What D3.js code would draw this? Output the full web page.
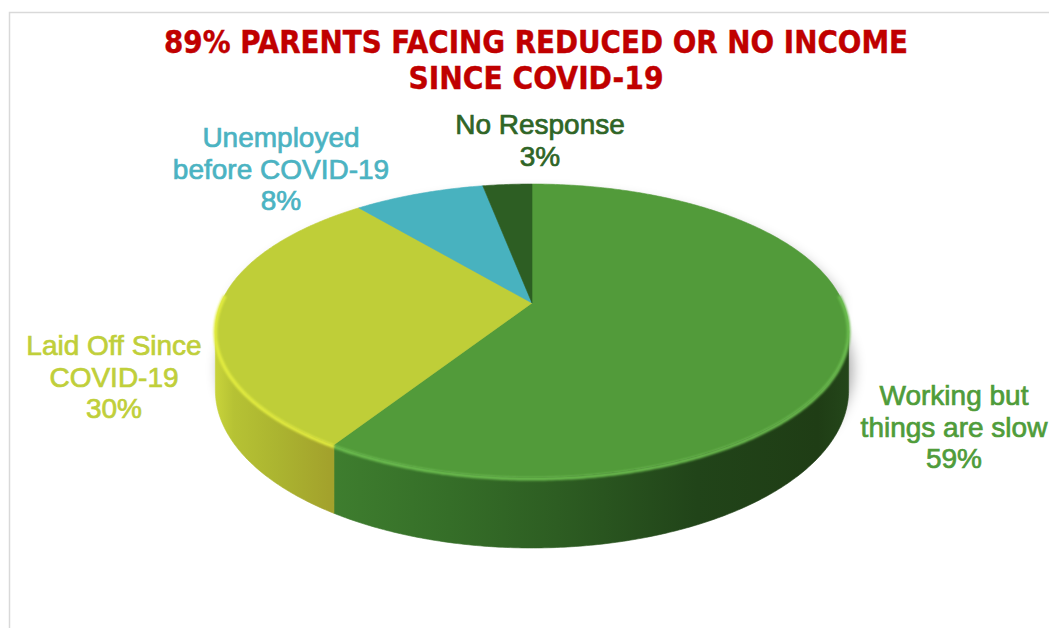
<!DOCTYPE html>
<html>
<head>
<meta charset="utf-8">
<script src="https://cdn.jsdelivr.net/npm/d3@7/dist/d3.min.js"></script>
<style>
  html, body { margin: 0; padding: 0; background: #fff; }
  svg { display: block; }
</style>
</head>
<body>
<svg id="chart" width="1049" height="628"></svg>
<script>
// Survey answers (share of parents, %)
const categories = ["Working but things are slow", "Laid Off Since COVID-19", "Unemployed before COVID-19", "No Response"];
const values = [59, 30, 8, 3];
const labelNames = [["Working but", "things are slow"], ["Laid Off Since", "COVID-19"], ["Unemployed", "before COVID-19"], ["No Response"]];
const titleLines = ["89% PARENTS FACING REDUCED OR NO INCOME", "SINCE COVID-19"];

// Styling
const topColors = ["#529b3a", "#bfce38", "#48b2bf", "#2d5e23"];
const rimColors = ["#6cbd4f", "#e2ec40", "#6cc8d3", "#3f7a31"];
const labelColors = ["#4f9c3a", "#c0cf3a", "#4bb3c2", "#2f6526"];
const labelPos = [[954, 405], [114, 355], [281, 147], [540, 134]];

const svg = d3.select("#chart");
const W = 1049, H = 628;

// Chart frame
svg.append("rect")
  .attr("x", 9.5).attr("y", 12.5)
  .attr("width", W + 20).attr("height", H + 20)
  .attr("fill", "#fff").attr("stroke", "#d9d9d9").attr("stroke-width", 1.5);

// Perspective pie geometry
const cx = 532, cy = 303, rx = 311, ry = 141.3, persp = 0.1877, depth = 57.7;
const sx = d3.scaleLinear().domain([-1, 1]).range([cx - rx, cx + rx]);
const sy = d3.scaleLinear().domain([-1, 1]).range([cy - ry, cy + ry]);

function proj(theta, dz) {
  const u = Math.sin(theta), v = -Math.cos(theta);
  const s = 1 / (1 - persp * v);
  return [sx(u * s), sy(v * s) + dz * s];
}
function arcPoints(a, b, dz) {
  const n = Math.max(2, Math.ceil((b - a) / 0.01));
  return d3.range(n + 1).map(i => proj(a + (b - a) * i / n, dz));
}

const pie = d3.pie().sort(null).value(d => d)
  .startAngle(0).endAngle(2 * Math.PI);
const arcs = pie(values);

const line = d3.line();
const visLo = Math.acos(-persp), visHi = 2 * Math.PI - Math.acos(-persp);

const defs = svg.append("defs");
defs.append("filter").attr("id", "shadowBlur")
  .attr("x", "-20%").attr("y", "-20%").attr("width", "140%").attr("height", "140%")
  .append("feGaussianBlur").attr("stdDeviation", 7);
defs.append("filter").attr("id", "rimBlur")
  .attr("x", "-10%").attr("y", "-10%").attr("width", "120%").attr("height", "120%")
  .append("feGaussianBlur").attr("stdDeviation", 1.3);

const xL = sx(-1.02), xR = sx(1.02);
const sideGrads = [
  [[0, "#4a8f37"], [0.17, "#3f7f2f"], [0.37, "#356e28"], [0.54, "#2d5d22"], [0.76, "#214419"], [0.95, "#1f3d15"], [1, "#24461a"]],
  [[0, "#c9d43b"], [0.03, "#b6c234"], [0.1, "#abb430"], [0.18, "#a3a22c"], [1, "#a3a22c"]],
  [[0, "#3a9aa6"], [1, "#2f7f89"]],
  [[0, "#24491c"], [1, "#1c3815"]]
];
sideGrads.forEach((stops, i) => {
  const g = defs.append("linearGradient").attr("id", "side" + i)
    .attr("gradientUnits", "userSpaceOnUse")
    .attr("x1", xL).attr("x2", xR).attr("y1", 0).attr("y2", 0);
  stops.forEach(s => g.append("stop").attr("offset", s[0]).attr("stop-color", s[1]));
});

// Soft drop shadow under the pie
svg.append("path")
  .attr("d", line(arcPoints(visLo - 0.3, visHi + 0.3, depth * 0.5).concat(arcPoints(visHi + 0.3, 2 * Math.PI + visLo - 0.3, 0))) + "Z")
  .attr("transform", "translate(4,9)")
  .attr("fill", "#000").attr("opacity", 0.34)
  .attr("filter", "url(#shadowBlur)");

// Side walls of the slices that face the viewer
const sides = svg.append("g");
arcs.forEach((d, i) => {
  const a = Math.max(d.startAngle, visLo), b = Math.min(d.endAngle, visHi);
  if (b <= a) return;
  const pts = arcPoints(a, b, 0).concat(arcPoints(a, b, depth).reverse());
  sides.append("path").attr("d", line(pts) + "Z")
    .attr("fill", `url(#side${i})`)
    .attr("stroke", `url(#side${i})`).attr("stroke-width", 0.6);
});

// Top faces
const tops = svg.append("g");
arcs.forEach((d, i) => {
  const pts = [[cx, cy]].concat(arcPoints(d.startAngle, d.endAngle, 0));
  tops.append("path").attr("d", line(pts) + "Z")
    .attr("fill", topColors[i])
    .attr("stroke", topColors[i]).attr("stroke-width", 0.6);
});

// Bevel highlight along the front rim
const rims = svg.append("g").attr("filter", "url(#rimBlur)");
arcs.forEach((d, i) => {
  const a = Math.max(d.startAngle, visLo - 0.25), b = Math.min(d.endAngle, visHi + 0.25);
  if (b <= a) return;
  rims.append("path").attr("d", line(arcPoints(a, b, 1.5)))
    .attr("fill", "none")
    .attr("stroke", rimColors[i]).attr("stroke-width", 3.5)
    .attr("stroke-linecap", "butt");
});

// Title
const title = svg.append("g");
titleLines.forEach((t, i) => {
  title.append("text")
    .attr("x", 536).attr("y", 53 + i * 36)
    .attr("text-anchor", "middle")
    .attr("font-family", "'DejaVu Sans Condensed', 'DejaVu Sans', sans-serif")
    .attr("font-weight", "bold")
    .attr("font-size", 32)
    .attr("fill", "#c00000")
    .attr("stroke", "#c00000").attr("stroke-width", 0.4)
    .attr("textLength", i === 0 ? 744 : 255)
    .attr("lengthAdjust", "spacingAndGlyphs")
    .text(t);
});

// Data labels
const labels = svg.append("g");
arcs.forEach((d, i) => {
  const lines = labelNames[i].concat([`${values[i]}%`]);
  const [lx, ly] = labelPos[i];
  const t = labels.append("text")
    .attr("text-anchor", "middle")
    .attr("font-family", "'Liberation Sans', Arial, sans-serif")
    .attr("font-size", 28)
    .attr("fill", labelColors[i])
    .attr("stroke", labelColors[i]).attr("stroke-width", 0.7);
  lines.forEach((l, k) => {
    t.append("tspan").attr("x", lx).attr("y", ly + k * 31.5).text(l);
  });
});
</script>
</body>
</html>
